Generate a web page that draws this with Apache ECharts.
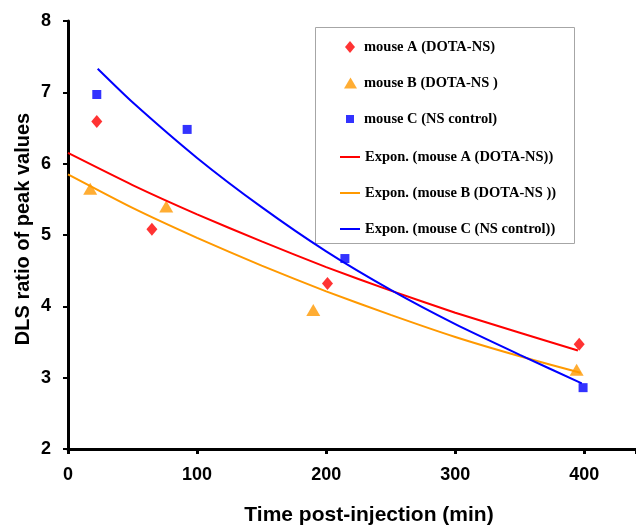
<!DOCTYPE html>
<html><head><meta charset="utf-8">
<script src="https://cdn.jsdelivr.net/npm/echarts@6/dist/echarts.min.js"></script>
<style>html,body{margin:0;padding:0;background:#fff}#c{width:636px;height:525px}</style>
</head><body><div id="c"></div>
<script>
const xTicks = [0, 100, 200, 300, 400];
const yTicks = [2, 3, 4, 5, 6, 7, 8];
const mouseA = [[22.3, 6.59], [65, 5.08], [201, 4.32], [396, 3.47]];
const mouseB = [[17.2, 5.65], [76.1, 5.40], [190, 3.95], [394, 3.11]];
const mouseC = [[22.3, 6.97], [92.3, 6.48], [214.5, 4.67], [399, 2.86]];
const trendA = [[0, 6.15], [50, 5.70], [100, 5.29], [150, 4.91], [200, 4.55], [250, 4.22], [300, 3.91], [350, 3.63], [395, 3.38]];
const trendB = [[0, 5.85], [50, 5.38], [100, 4.96], [150, 4.57], [200, 4.21], [250, 3.88], [300, 3.57], [350, 3.30], [397, 3.07]];
const trendC = [[23, 7.33], [50, 6.86], [100, 6.08], [150, 5.39], [200, 4.77], [250, 4.23], [300, 3.75], [350, 3.32], [398, 2.92]];
const names = ['mouse A (DOTA-NS)', 'mouse B (DOTA-NS )', 'mouse C (NS control)',
  'Expon. (mouse A (DOTA-NS))', 'Expon. (mouse B (DOTA-NS ))', 'Expon. (mouse C (NS control))'];
const xTitle = 'Time post-injection (min)';
const yTitle = 'DLS ratio of peak values';

const RED = '#ff0000', ORANGE = '#ff9900', BLUE = '#0000ff';
const chart = echarts.init(document.getElementById('c'), null, {renderer: 'canvas'});
const sans = 'Liberation Sans, Arial, sans-serif';
const legText = {color: '#000', fontFamily: 'Liberation Serif, Times New Roman, serif', fontWeight: 'bold', fontSize: 14.5, lineHeight: 16};
function markerLegend(name, icon, w, h, left, top, padLeft) {
  return {
    orient: 'vertical', left: left, top: top, padding: 0, z: 5,
    itemWidth: w, itemHeight: h, selectedMode: false,
    textStyle: Object.assign({}, legText, {padding: [0, 0, 0, padLeft]}),
    data: [{name: name, icon: icon}]
  };
}
chart.setOption({
  animation: false,
  backgroundColor: '#fff',
  grid: {left: 68, top: 21, right: 0, bottom: 76, containLabel: false, outerBoundsMode: 'none'},
  xAxis: {
    type: 'value', min: 0, max: 440, interval: 100,
    axisLine: {lineStyle: {color: '#000', width: 3}},
    axisTick: {show: true, length: 5, lineStyle: {color: '#000', width: 3}},
    splitLine: {show: false},
    axisLabel: {
      margin: 17, color: '#000', fontFamily: sans, fontWeight: 'bold', fontSize: 18,
      formatter: v => xTicks.includes(v) ? String(v) : ''
    },
    name: xTitle, nameLocation: 'middle', nameGap: 56, nameMoveOverlap: false,
    nameTextStyle: {color: '#000', fontFamily: sans, fontWeight: 'bold', fontSize: 21, padding: [0, 0, 0, 34]}
  },
  yAxis: {
    type: 'value', min: 2, max: 8, interval: 1,
    axisLine: {lineStyle: {color: '#000', width: 3}},
    axisTick: {show: true, length: 5, lineStyle: {color: '#000', width: 2}},
    splitLine: {show: false},
    axisLabel: {
      margin: 17, color: '#000', fontFamily: sans, fontWeight: 'bold', fontSize: 18,
      formatter: v => yTicks.includes(v) ? String(v) : ''
    },
    name: yTitle, nameLocation: 'middle', nameGap: 35, nameMoveOverlap: false,
    nameTextStyle: {color: '#000', fontFamily: sans, fontWeight: 'bold', fontSize: 20, padding: [0, 0, 0, 12]}
  },
  graphic: [{
    type: 'rect', z: 1, silent: true,
    shape: {x: 315.5, y: 27.5, width: 259, height: 216},
    style: {fill: '#fff', stroke: '#a6a6a6', lineWidth: 1}
  }],
  legend: [
    markerLegend(names[0], 'diamond', 10, 12, 345, 39, 4),
    markerLegend(names[1], 'triangle', 13, 11, 344, 75, 2),
    markerLegend(names[2], 'rect', 8, 8, 346, 111, 5),
    {
      orient: 'vertical', left: 339, top: 149, padding: 0, z: 5,
      itemWidth: 20, itemHeight: 10, itemGap: 20, selectedMode: false,
      textStyle: legText,
      data: [
        {name: names[3], itemStyle: {opacity: 0}},
        {name: names[4], itemStyle: {opacity: 0}},
        {name: names[5], itemStyle: {opacity: 0}}
      ]
    }
  ],
  series: [
    {name: names[0], type: 'scatter', data: mouseA, symbol: 'diamond', symbolSize: [11, 13], itemStyle: {color: RED}, z: 2},
    {name: names[1], type: 'scatter', data: mouseB, symbol: 'triangle', symbolSize: [14, 12], itemStyle: {color: ORANGE}, z: 2},
    {name: names[2], type: 'scatter', data: mouseC, symbol: 'rect', symbolSize: 9, itemStyle: {color: BLUE}, z: 2},
    {name: names[3], type: 'line', data: trendA, symbol: 'none', smooth: 0.2, lineStyle: {color: RED, width: 2}, itemStyle: {color: RED}, z: 3},
    {name: names[4], type: 'line', data: trendB, symbol: 'none', smooth: 0.2, lineStyle: {color: ORANGE, width: 2}, itemStyle: {color: ORANGE}, z: 3},
    {name: names[5], type: 'line', data: trendC, symbol: 'none', smooth: 0.2, lineStyle: {color: BLUE, width: 2}, itemStyle: {color: BLUE}, z: 3}
  ]
});
</script>
</body></html>
